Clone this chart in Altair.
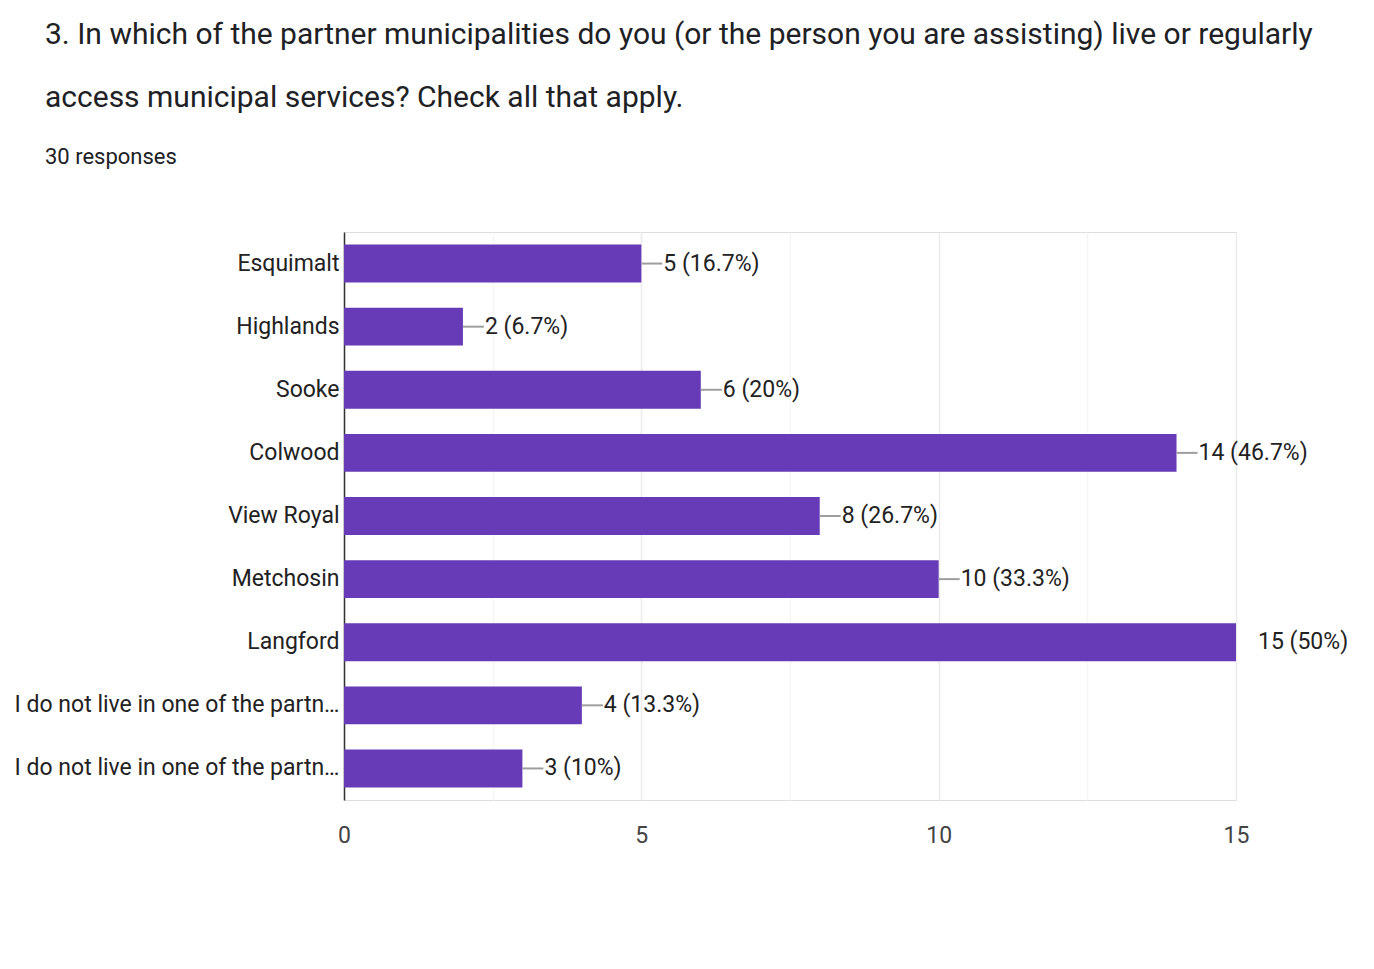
import json
import altair as alt
import pandas as pd

# Survey question 3: municipalities respondents live in or use
labels = [
    "Esquimalt",
    "Highlands",
    "Sooke",
    "Colwood",
    "View Royal",
    "Metchosin",
    "Langford",
    "I do not live in one of the partn\u2026",
    "I do not live in one of the partn\u2026",
]
counts = [5, 2, 6, 14, 8, 10, 15, 4, 3]
pct_text = ["16.7%", "6.7%", "20%", "46.7%", "26.7%", "33.3%", "50%", "13.3%", "10%"]
x_ticks = [0, 2.5, 5, 7.5, 10, 12.5, 15]

FONT = "Roboto, 'Liberation Sans', sans-serif"
PURPLE = "#673ab7"

df = pd.DataFrame({
    "idx": list(range(len(labels))),
    "count": counts,
    "pct": pct_text,
})
df["text"] = [f"{c} ({p})" for c, p in zip(counts, pct_text)]

label_expr = json.dumps(labels) + "[datum.value]"

y_enc = alt.Y(
    "idx:O",
    sort=None,
    scale=alt.Scale(paddingInner=0.4, paddingOuter=0.2),
    axis=alt.Axis(
        title=None,
        labelExpr=label_expr,
        ticks=False,
        labelPadding=5,
        labelFontSize=23,
        labelColor="#222222",
        labelFont=FONT,
        labelLimit=400,
        domainColor="#333333",
        domainWidth=1.5,
        grid=False,
    ),
)

x_enc = alt.X(
    "count:Q",
    scale=alt.Scale(domain=[0, 15], nice=False),
    axis=alt.Axis(
        title=None,
        values=x_ticks,
        labelExpr="datum.value % 5 == 0 ? format(datum.value, 'd') : ''",
        labelFlush=False,
        ticks=False,
        domain=False,
        labelPadding=24,
        labelFontSize=23,
        labelColor="#444444",
        labelFont=FONT,
        gridColor={
            "condition": {"test": "datum.value % 5 == 0", "value": "#ebebeb"},
            "value": "#f5f5f5",
        },
        gridWidth=1.5,
    ),
)

base = alt.Chart(df)

bars = base.mark_bar(color=PURPLE).encode(y=y_enc, x=x_enc)

leaders = base.mark_rule(color="#9e9e9e", strokeWidth=2, x2Offset=21, clip=True).encode(
    y=alt.Y("idx:O", sort=None),
    x="count:Q",
    x2="count:Q",
)

values = base.mark_text(
    align="left",
    baseline="middle",
    dx=22,
    fontSize=23,
    font=FONT,
    color="#222222",
).encode(
    y=alt.Y("idx:O", sort=None),
    x="count:Q",
    text="text:N",
)

chart = (
    alt.layer(bars, leaders, values)
    .properties(
        width=892,
        height=568,
        autosize=alt.AutoSizeParams(type="none"),
        padding={"left": 344, "top": 232, "right": 138, "bottom": 139},
        title=alt.TitleParams(
            text=[
                "3. In which of the partner municipalities do you (or the person you are assisting) live or regularly",
                "access municipal services? Check all that apply.",
            ],
            subtitle="30 responses",
            anchor="start",
            frame="group",
            dx=-299,
            offset=64,
            font=FONT,
            fontSize=30,
            fontWeight="normal",
            color="#202124",
            lineHeight=63,
            subtitleFont=FONT,
            subtitleFontSize=22,
            subtitleColor="#202124",
            subtitlePadding=34,
        ),
    )
    .configure_view(stroke="#ebebeb", strokeWidth=2)
    .configure(background="white")
)

chart.save("out.html", embed_options={"renderer": "svg", "actions": False})
